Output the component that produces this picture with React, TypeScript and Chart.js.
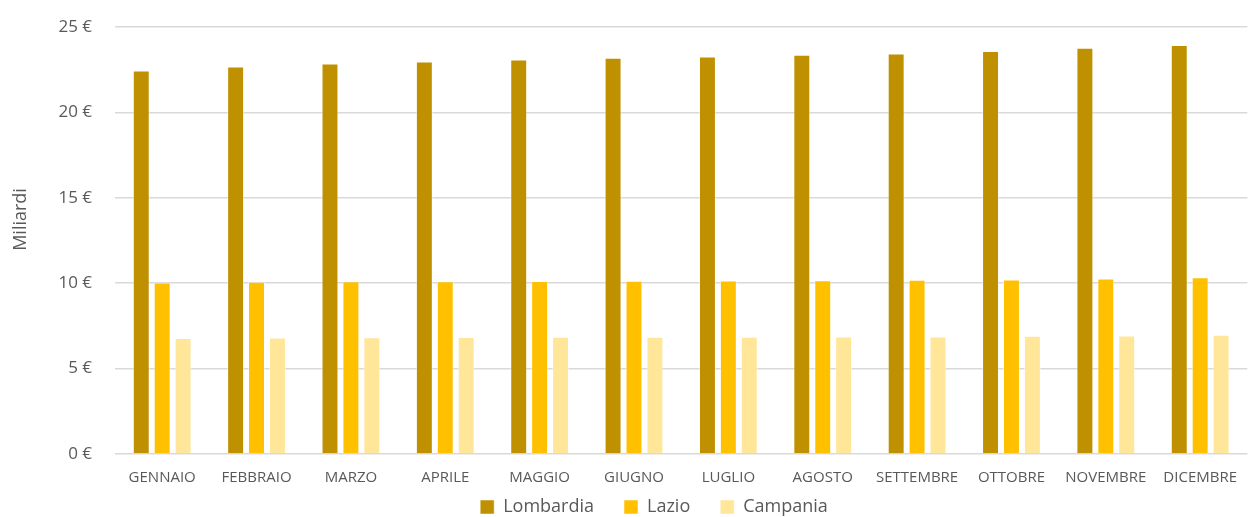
import React, { useEffect, useRef } from "react";
import { Chart, registerables } from "chart.js";

Chart.register(...registerables);

const months = ["GENNAIO", "FEBBRAIO", "MARZO", "APRILE", "MAGGIO", "GIUGNO", "LUGLIO", "AGOSTO", "SETTEMBRE", "OTTOBRE", "NOVEMBRE", "DICEMBRE"];
const lombardia = [22.45, 22.69, 22.86, 22.98, 23.1, 23.2, 23.27, 23.37, 23.45, 23.6, 23.79, 23.94];
const lazio = [10.04, 10.08, 10.11, 10.12, 10.13, 10.15, 10.16, 10.17, 10.2, 10.22, 10.28, 10.35];
const campania = [6.79, 6.82, 6.84, 6.85, 6.86, 6.87, 6.87, 6.88, 6.88, 6.92, 6.94, 6.98];
const yTicks = [0, 5, 10, 15, 20, 25];

const FONT = "'Open Sans', 'DejaVu Sans', sans-serif";
const TEXT = "#595959";

// shrink the legend box vertically while keeping its items where they belong
const LEGEND_SHRINK = 45;
const LEGEND_SHIFT_Y = 34;
const LEGEND_SHIFT_X = 28;
const legendPatch = {
  id: "legendPatch",
  afterInit(chart: any) {
    const lg = chart.legend;
    if (!lg) return;
    const origFit = lg.fit.bind(lg);
    lg.fit = function () {
      origFit();
      this.height = Math.max(10, this.height - LEGEND_SHRINK);
    };
    const origDraw = lg.draw.bind(lg);
    lg.draw = function () {
      const t = this.top, b = this.bottom, l = this.left, r = this.right;
      this.top = t - LEGEND_SHIFT_Y;
      this.bottom = b + 20;
      this.left = l + LEGEND_SHIFT_X;
      this.right = r + LEGEND_SHIFT_X;
      origDraw();
      this.top = t; this.bottom = b; this.left = l; this.right = r;
    };
  },
};

export default function App() {
  const ref = useRef<HTMLCanvasElement | null>(null);
  useEffect(() => {
    if (!ref.current) return;
    const mk = (label: string, data: number[], color: string) => ({
      label,
      data,
      backgroundColor: color,
      borderColor: "rgba(255,255,255,0.5)",
      borderWidth: 1,
      barPercentage: 0.81,
      categoryPercentage: 0.665,
    });
    const chart = new Chart(ref.current, {
      type: "bar",
      data: {
        labels: months,
        datasets: [
          mk("Lombardia", lombardia, "#BF9000"),
          mk("Lazio", lazio, "#FFC000"),
          mk("Campania", campania, "#FFE699"),
        ],
      },
      plugins: [legendPatch],
      options: {
        animation: false,
        responsive: true,
        maintainAspectRatio: false,
        layout: { padding: { top: 27, right: 0, left: 0, bottom: 2 } },
        plugins: {
          tooltip: { enabled: false },
          legend: {
            position: "bottom",
            labels: {
              font: { family: FONT, size: 18 },
              color: TEXT,
              boxWidth: 14,
              boxHeight: 14,
              padding: 30,
            },
          },
        },
        scales: {
          x: {
            grid: { display: false, drawTicks: false },
            border: { display: false },
            ticks: {
              font: { family: FONT, size: 15 },
              color: TEXT,
              padding: 15,
              maxRotation: 0,
              autoSkip: false,
            },
          },
          y: {
            min: 0,
            max: 25,
            afterFit: (s: any) => { s.width = 115; s.paddingTop = 0; s.paddingBottom = 0; },
            afterBuildTicks: (s: any) => { s.ticks = yTicks.map((v) => ({ value: v })); },
            grid: { color: "#d9d9d9", lineWidth: 1.5, drawTicks: false },
            border: { display: false },
            ticks: {
              font: { family: FONT, size: 17 },
              color: TEXT,
              padding: 23,
              callback: (v: any) => `${v} €`,
            },
            title: {
              display: true,
              text: "\u00a0\u00a0\u00a0\u00a0\u00a0\u00a0\u00a0\u00a0\u00a0Miliardi",
              font: { family: FONT, size: 18 },
              color: TEXT,
              padding: { top: 10, bottom: 0 },
            },
          },
        },
      },
    });
    return () => chart.destroy();
  }, []);
  return (
    <div style={{ position: "absolute", left: 0, top: 0, width: 1252, height: 517 }}>
      <canvas ref={ref} />
    </div>
  );
}
